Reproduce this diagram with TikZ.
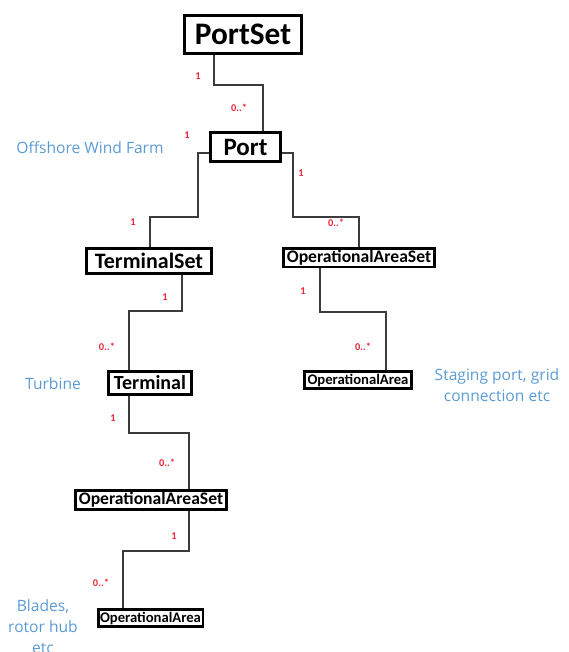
\documentclass[tikz,border=0pt]{standalone}
\usepackage{fontspec}
\setmainfont{Carlito}
\newfontfamily\bluefont{Open Sans}
\definecolor{noteblue}{RGB}{91,155,213}
\definecolor{mulred}{RGB}{235,35,55}
\definecolor{linegray}{RGB}{60,60,60}
\begin{document}
\begin{tikzpicture}[x=0.75pt,y=-0.75pt,
  box/.style={draw=black,fill=white,inner sep=0pt,font=\bfseries,text=black},
  conn/.style={draw=linegray,line width=1.1pt},
  mult/.style={text=mulred,font=\fontsize{7.8pt}{8pt}\selectfont\bfseries,inner sep=0pt},
  note/.style={text=noteblue,font=\bluefont\fontsize{11.7pt}{15.8pt}\selectfont,align=center,inner sep=0pt}]
\useasboundingbox (0,0) rectangle (568,652);
% boxes
\node[box,line width=2.3pt,minimum width=87.75pt,minimum height=28.5pt,font=\fontsize{23.5pt}{26pt}\selectfont\bfseries] (ps) at (243,34.5) {PortSet};
\node[box,line width=1.9pt,minimum width=52.5pt,minimum height=22pt,font=\fontsize{18.75pt}{20pt}\selectfont\bfseries] (port) at (245.5,147) {Port};
\node[box,line width=1.9pt,minimum width=93.75pt,minimum height=19pt,font=\fontsize{16.5pt}{18pt}\selectfont\bfseries] (ts) at (149,261) {TerminalSet};
\node[box,line width=1.9pt,minimum width=113.6pt,minimum height=13.9pt,font=\fontsize{13.2pt}{14pt}\selectfont\bfseries] (oasr) at (359,257.5) {OperationalAreaSet};
\node[box,line width=1.9pt,minimum width=80.6pt,minimum height=13.1pt,font=\fontsize{11pt}{12pt}\selectfont\bfseries] (oar) at (358,380) {OperationalArea};
\node[box,line width=1.9pt,minimum width=62.6pt,minimum height=17.6pt,font=\fontsize{15pt}{16pt}\selectfont\bfseries] (term) at (150,383) {Terminal};
\node[box,line width=1.9pt,minimum width=113.6pt,minimum height=14.6pt,font=\fontsize{13.2pt}{14pt}\selectfont\bfseries] (oasl) at (151,500) {OperationalAreaSet};
\node[box,line width=1.9pt,minimum width=78.4pt,minimum height=13.1pt,font=\fontsize{11pt}{12pt}\selectfont\bfseries] (oal) at (150.5,618) {OperationalArea};
% connectors
\draw[conn] (ps.south -| 214,0) -- (214,85) -| (port.north -| 263,0);
\draw[conn] (port.west |- 0,153) -| (198,217) -| (ts.north -| 150,0);
\draw[conn] (port.east |- 0,153) -| (293,217) -| (oasr.north -| 359,0);
\draw[conn] (oasr.south -| 320,0) -- (320,312) -| (oar.north -| 386,0);
\draw[conn] (ts.south -| 182,0) -- (182,311) -| (term.north -| 129,0);
\draw[conn] (term.south -| 129,0) -- (129,433) -| (oasl.north -| 189,0);
\draw[conn] (oasl.south -| 189,0) -- (189,551) -| (oal.north -| 123,0);
% multiplicities
\node[mult] (m1) at (198,76) {1};
\node[mult] (m2) at (239,108) {0..*};
\node[mult] (m3) at (187,135) {1};
\node[mult] (m4) at (133,222) {1};
\node[mult] (m5) at (301,173) {1};
\node[mult] (m6) at (336,223) {0..*};
\node[mult] (m7) at (303,291) {1};
\node[mult] (m8) at (363,347) {0..*};
\node[mult] (m9) at (165,297) {1};
\node[mult] (m10) at (107,347) {0..*};
\node[mult] (m11) at (113,418) {1};
\node[mult] (m12) at (167,463) {0..*};
\node[mult] (m13) at (174,536) {1};
\node[mult] (m14) at (101,583) {0..*};
% notes
\node[note] (n1) at (90,148) {Offshore Wind Farm};
\node[note] (n2) at (53,384) {Turbine};
\node[note] (n3) at (497,385.5) {Staging port, grid\\connection etc};
\node[note] (n4) at (43,627) {Blades,\\rotor hub\\etc};
\end{tikzpicture}
\end{document}
